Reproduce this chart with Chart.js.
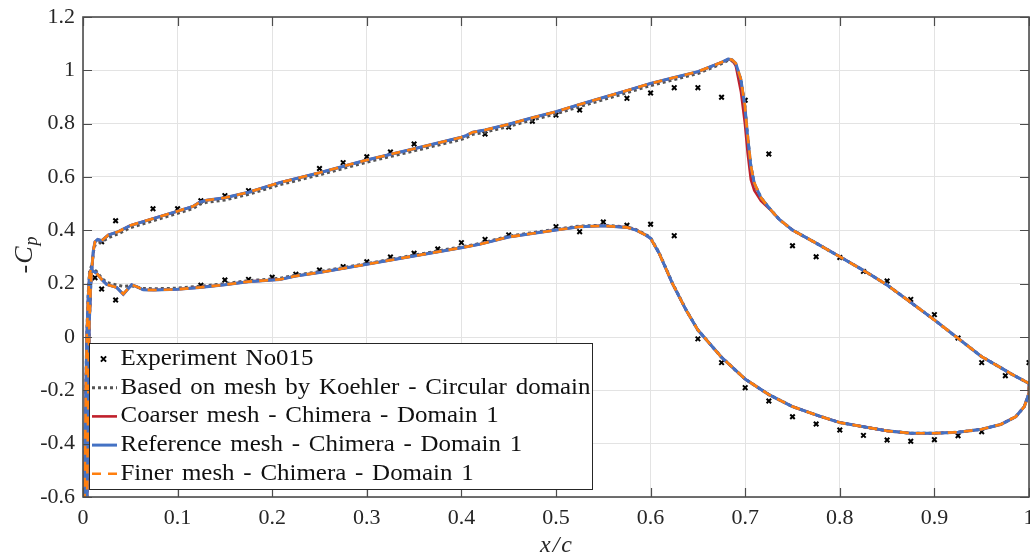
<!DOCTYPE html>
<html>
<head>
<meta charset="utf-8">
<script src="https://cdn.jsdelivr.net/npm/chart.js@4.4.1/dist/chart.umd.min.js"></script>
<style>
html,body{margin:0;padding:0;background:#fff;}
#wrap{width:1030px;height:560px;}
</style>
</head>
<body>
<div id="wrap"><canvas id="c" width="1030" height="560"></canvas></div>
<script>
// ---------- tick values / labels ----------
const xTicks = [0, 0.1, 0.2, 0.3, 0.4, 0.5, 0.6, 0.7, 0.8, 0.9, 1];
const xTickLabels = ['0', '0.1', '0.2', '0.3', '0.4', '0.5', '0.6', '0.7', '0.8', '0.9', '1'];
const yTicks = [-0.6, -0.4, -0.2, 0, 0.2, 0.4, 0.6, 0.8, 1, 1.2];
const yTickLabels = ['-0.6', '-0.4', '-0.2', '0', '0.2', '0.4', '0.6', '0.8', '1', '1.2'];

// ---------- series names ----------
const seriesNames = [
  'Experiment No015',
  'Based on mesh by Koehler - Circular domain',
  'Coarser mesh - Chimera - Domain 1',
  'Reference mesh - Chimera - Domain 1',
  'Finer mesh - Chimera - Domain 1'
];

// ---------- experiment ----------
const expX = [0.0197, 0.0345, 0.074, 0.1, 0.1246, 0.15, 0.175, 0.25, 0.275, 0.3, 0.325, 0.35, 0.425, 0.45, 0.475, 0.5, 0.525, 0.575, 0.6, 0.625, 0.65, 0.675, 0.7, 0.725, 0.75, 0.775, 0.8, 0.825, 0.85, 0.875, 0.9, 0.925, 0.95, 0.975, 1.0,
  0.0127, 0.0197, 0.0345, 0.1246, 0.15, 0.175, 0.2, 0.225, 0.25, 0.275, 0.3, 0.325, 0.35, 0.375, 0.4, 0.425, 0.45, 0.5, 0.525, 0.55, 0.575, 0.6, 0.625, 0.65, 0.675, 0.7, 0.725, 0.75, 0.775, 0.8, 0.825, 0.85, 0.875, 0.9, 0.925, 0.95];
const expY = [0.357, 0.436, 0.481, 0.481, 0.511, 0.530, 0.549, 0.632, 0.654, 0.676, 0.694, 0.724, 0.761, 0.787, 0.809, 0.832, 0.851, 0.895, 0.915, 0.935, 0.935, 0.899, 0.888, 0.686, 0.342, 0.301, 0.298, 0.246, 0.210, 0.141, 0.084, -0.004, -0.096, -0.145, -0.096,
  0.222, 0.180, 0.139, 0.194, 0.214, 0.216, 0.224, 0.235, 0.251, 0.264, 0.282, 0.300, 0.314, 0.330, 0.354, 0.366, 0.383, 0.414, 0.395, 0.431, 0.419, 0.423, 0.380, -0.007, -0.096, -0.190, -0.240, -0.299, -0.326, -0.349, -0.369, -0.386, -0.391, -0.385, -0.370, -0.355];

// ---------- CFD curves (closed loop: TE -> upper -> LE -> lower -> TE) ----------
const loopX = [1.000, 0.990, 0.982, 0.970, 0.950, 0.925, 0.900, 0.875, 0.850, 0.825, 0.800, 0.775, 0.750, 0.736, 0.7255, 0.7167, 0.7096, 0.706, 0.7026, 0.6997, 0.6955, 0.690, 0.686, 0.682, 0.675, 0.650, 0.625, 0.600, 0.575, 0.550, 0.525, 0.500, 0.475, 0.450, 0.425, 0.412, 0.405, 0.400, 0.350, 0.300, 0.250, 0.208, 0.175, 0.150, 0.1306, 0.1235, 0.1165, 0.100, 0.075, 0.050, 0.0373, 0.0268, 0.0197, 0.0155, 0.0127, 0.011, 0.0092, 0.0081, 0.0074, 0.0067, 0.006, 0.005, 0.004, 0.002,
  0.001, 0.002, 0.003, 0.004, 0.0055, 0.007, 0.0085, 0.0144, 0.020, 0.025, 0.0355, 0.0426, 0.0514, 0.0567, 0.0637, 0.075, 0.100, 0.1235, 0.150, 0.1746, 0.208, 0.225, 0.250, 0.300, 0.350, 0.400, 0.419, 0.450, 0.500, 0.525, 0.550, 0.575, 0.5846, 0.595, 0.600, 0.609, 0.623, 0.6375, 0.650, 0.675, 0.700, 0.725, 0.750, 0.778, 0.800, 0.850, 0.875, 0.900, 0.925, 0.950, 0.970, 0.986, 0.995, 1.000, 1.000];

const koehlerY = [-0.174, -0.155, -0.140, -0.115, -0.074, -0.005, 0.064, 0.130, 0.195, 0.250, 0.301, 0.352, 0.401, 0.441, 0.483, 0.522, 0.576, 0.639, 0.751, 0.864, 0.964, 1.022, 1.036, 1.038, 1.025, 0.988, 0.965, 0.943, 0.916, 0.890, 0.864, 0.837, 0.814, 0.790, 0.768, 0.760, 0.747, 0.741, 0.698, 0.656, 0.608, 0.571, 0.535, 0.514, 0.505, 0.498, 0.482, 0.464, 0.437, 0.410, 0.387, 0.372, 0.357, 0.352, 0.345, 0.320, 0.251, 0.189, 0.114, 0.064, -0.100, -0.400, -0.700, -1.000,
  -0.800, -0.500, -0.200, 0.000, 0.160, 0.250, 0.262, 0.245, 0.220, 0.205, 0.195, 0.190, 0.192, 0.187, 0.182, 0.181, 0.183, 0.190, 0.200, 0.211, 0.220, 0.232, 0.245, 0.275, 0.307, 0.338, 0.350, 0.378, 0.404, 0.416, 0.419, 0.413, 0.403, 0.384, 0.372, 0.316, 0.203, 0.102, 0.026, -0.076, -0.158, -0.216, -0.261, -0.296, -0.321, -0.352, -0.361, -0.361, -0.357, -0.346, -0.328, -0.299, -0.261, -0.211, -0.174];

const coarseY = [-0.174, -0.155, -0.140, -0.115, -0.074, -0.005, 0.064, 0.130, 0.195, 0.250, 0.301, 0.352, 0.401, 0.441, 0.481, 0.510, 0.550, 0.590, 0.690, 0.800, 0.920, 1.018, 1.038, 1.042, 1.030, 0.995, 0.973, 0.951, 0.924, 0.898, 0.872, 0.845, 0.822, 0.798, 0.776, 0.768, 0.755, 0.749, 0.706, 0.664, 0.616, 0.579, 0.543, 0.522, 0.513, 0.506, 0.490, 0.472, 0.445, 0.418, 0.395, 0.3825, 0.361, 0.366, 0.357, 0.326, 0.251, 0.189, 0.114, 0.064, -0.100, -0.400, -0.700, -1.000,
  -0.800, -0.500, -0.200, 0.000, 0.150, 0.240, 0.252, 0.239, 0.215, 0.197, 0.186, 0.160, 0.196, 0.189, 0.177, 0.176, 0.179, 0.186, 0.196, 0.2075, 0.216, 0.229, 0.242, 0.2725, 0.304, 0.335, 0.3475, 0.375, 0.401, 0.4135, 0.417, 0.411, 0.401, 0.382, 0.370, 0.314, 0.201, 0.101, 0.026, -0.076, -0.158, -0.216, -0.261, -0.296, -0.321, -0.352, -0.361, -0.361, -0.357, -0.346, -0.328, -0.299, -0.261, -0.211, -0.174];

const referenceY = [-0.174, -0.155, -0.140, -0.115, -0.074, -0.005, 0.064, 0.130, 0.195, 0.250, 0.301, 0.352, 0.401, 0.441, 0.483, 0.522, 0.576, 0.639, 0.751, 0.864, 0.964, 1.026, 1.040, 1.042, 1.030, 0.995, 0.973, 0.951, 0.924, 0.898, 0.872, 0.845, 0.822, 0.798, 0.776, 0.768, 0.755, 0.749, 0.706, 0.664, 0.616, 0.579, 0.543, 0.522, 0.513, 0.506, 0.490, 0.472, 0.445, 0.418, 0.395, 0.3825, 0.361, 0.366, 0.357, 0.326, 0.251, 0.189, 0.114, 0.064, -0.100, -0.400, -0.700, -1.000,
  -0.800, -0.500, -0.200, 0.000, 0.150, 0.240, 0.252, 0.239, 0.215, 0.197, 0.186, 0.160, 0.196, 0.189, 0.177, 0.176, 0.179, 0.186, 0.196, 0.2075, 0.216, 0.229, 0.242, 0.2725, 0.304, 0.335, 0.3475, 0.375, 0.401, 0.4135, 0.417, 0.411, 0.401, 0.382, 0.370, 0.314, 0.201, 0.101, 0.026, -0.076, -0.158, -0.216, -0.261, -0.296, -0.321, -0.352, -0.361, -0.361, -0.357, -0.346, -0.328, -0.299, -0.261, -0.211, -0.174];

const finerY = [-0.174, -0.155, -0.140, -0.115, -0.074, -0.005, 0.064, 0.130, 0.195, 0.250, 0.301, 0.352, 0.401, 0.441, 0.483, 0.522, 0.578, 0.642, 0.755, 0.866, 0.966, 1.027, 1.040, 1.042, 1.030, 0.995, 0.973, 0.951, 0.924, 0.898, 0.872, 0.845, 0.822, 0.798, 0.776, 0.768, 0.755, 0.749, 0.706, 0.664, 0.616, 0.579, 0.543, 0.522, 0.513, 0.506, 0.490, 0.472, 0.445, 0.418, 0.395, 0.3825, 0.361, 0.366, 0.357, 0.326, 0.251, 0.189, 0.114, 0.064, -0.100, -0.400, -0.700, -1.000,
  -0.800, -0.500, -0.200, 0.000, 0.150, 0.240, 0.252, 0.239, 0.215, 0.197, 0.186, 0.162, 0.196, 0.189, 0.177, 0.176, 0.179, 0.186, 0.196, 0.2075, 0.216, 0.229, 0.242, 0.2725, 0.304, 0.335, 0.3475, 0.375, 0.401, 0.4135, 0.417, 0.411, 0.401, 0.382, 0.370, 0.314, 0.201, 0.101, 0.026, -0.076, -0.158, -0.216, -0.261, -0.296, -0.321, -0.352, -0.361, -0.361, -0.357, -0.346, -0.328, -0.299, -0.261, -0.211, -0.174];

// ---------- styles ----------
const FONT = '"Liberation Serif", "DejaVu Serif", serif';
const AXIS_COLOR = '#4d4d4d';
const TEXT_COLOR = '#262626';
const GRID_COLOR = '#e3e3e3';

function pts(xs, ys) { return xs.map((v, i) => ({ x: v, y: ys[i] })); }

const datasets = [
  { label: seriesNames[0], data: pts(expX, expY), showLine: false, pointStyle: 'crossRot', pointRadius: 3.2, pointBorderWidth: 2, borderColor: '#000', backgroundColor: '#000', order: 5, clip: 0 },
  { label: seriesNames[1], data: pts(loopX, koehlerY), showLine: true, borderColor: '#555555', borderWidth: 3, borderDash: [3, 3], pointRadius: 0, order: 4, tension: 0 },
  { label: seriesNames[2], data: pts(loopX, coarseY), showLine: true, borderColor: '#c0202b', borderWidth: 2.6, pointRadius: 0, order: 3, tension: 0 },
  { label: seriesNames[3], data: pts(loopX, referenceY), showLine: true, borderColor: '#4472c4', borderWidth: 3, pointRadius: 0, order: 2, tension: 0 },
  { label: seriesNames[4], data: pts(loopX, finerY), showLine: true, borderColor: '#ff7f0e', borderWidth: 2.6, borderDash: [9, 7], pointRadius: 0, order: 1, tension: 0 }
];

const decor = {
  id: 'decor',
  afterDatasetsDraw(chart) {
    const { ctx, chartArea: a, scales } = chart;
    const xs = scales.x, ys = scales.y;
    ctx.save();
    ctx.strokeStyle = AXIS_COLOR;
    ctx.lineWidth = 1.2;
    ctx.beginPath();
    xTicks.forEach(v => {
      const p = Math.round(xs.getPixelForValue(v)) + 0.5;
      ctx.moveTo(p, a.bottom); ctx.lineTo(p, a.bottom - 9);
      ctx.moveTo(p, a.top); ctx.lineTo(p, a.top + 9);
    });
    yTicks.forEach(v => {
      const p = Math.round(ys.getPixelForValue(v)) + 0.5;
      ctx.moveTo(a.left, p); ctx.lineTo(a.left + 9, p);
      ctx.moveTo(a.right, p); ctx.lineTo(a.right - 9, p);
    });
    ctx.stroke();
    ctx.lineWidth = 1.6;
    ctx.strokeRect(a.left, a.top, a.right - a.left, a.bottom - a.top);
    ctx.restore();
  },
  afterDraw(chart) {
    const { ctx, chartArea: a } = chart;
    ctx.save();
    // x axis title
    ctx.fillStyle = TEXT_COLOR;
    ctx.font = 'italic 24px ' + FONT;
    ctx.textAlign = 'left';
    ctx.textBaseline = 'alphabetic';
    try { ctx.letterSpacing = '2px'; } catch (e) {}
    const tw = ctx.measureText('x/c').width;
    ctx.fillText('x/c', (a.left + a.right) / 2 - tw / 2 + 1, 552);
    try { ctx.letterSpacing = '0px'; } catch (e) {}
    // y axis title: -C_p
    ctx.save();
    ctx.translate(32, (a.top + a.bottom) / 2 - 2);
    ctx.rotate(-Math.PI / 2);
    ctx.textAlign = 'left';
    ctx.font = '26px ' + FONT;
    const w1 = ctx.measureText('-').width + 1;
    ctx.font = 'italic 26px ' + FONT;
    const w2 = ctx.measureText('C').width + 1;
    ctx.font = 'italic 18px ' + FONT;
    const w3 = ctx.measureText('p').width;
    let sx = -(w1 + w2 + w3) / 2;
    ctx.font = '26px ' + FONT; ctx.fillText('-', sx, 0);
    ctx.font = 'italic 26px ' + FONT; ctx.fillText('C', sx + w1, 0);
    ctx.font = 'italic 18px ' + FONT; ctx.fillText('p', sx + w1 + w2, 5);
    ctx.restore();

    // legend
    const L = 89.5, T = 343.5, R = 592.5, B = 489.5;
    ctx.fillStyle = '#ffffff';
    ctx.fillRect(L, T, R - L, B - T);
    ctx.strokeStyle = '#262626';
    ctx.lineWidth = 1;
    ctx.strokeRect(L, T, R - L, B - T);
    // glyph size like the reference, stretched a little horizontally with
    // slightly wider word gaps so the labels span what they do there
    const fs = 22.5;
    ctx.font = fs + 'px ' + FONT;
    const A0 = ctx.measureText(seriesNames[0]).width;
    const A1 = ctx.measureText(seriesNames[1]).width;
    let g = (2.435 * A0 - A1) / 4.565;
    g = Math.max(0, Math.min(6, g));
    let k = 470 / (A1 + 7 * g);
    k = Math.max(0.9, Math.min(1.25, k));
    try { ctx.wordSpacing = g.toFixed(2) + 'px'; } catch (e) {}
    ctx.textAlign = 'left';
    ctx.textBaseline = 'middle';
    chart.data.datasets.forEach((ds, i) => {
      const cy = 359 + i * 28.7;
      ctx.save();
      if (i === 0) {
        ctx.strokeStyle = '#000'; ctx.lineWidth = 2;
        const s = 2.6, cx = 103.5;
        ctx.beginPath();
        ctx.moveTo(cx - s, cy - s); ctx.lineTo(cx + s, cy + s);
        ctx.moveTo(cx + s, cy - s); ctx.lineTo(cx - s, cy + s);
        ctx.stroke();
      } else {
        ctx.strokeStyle = ds.borderColor;
        ctx.lineWidth = ds.borderWidth;
        ctx.setLineDash(ds.borderDash || []);
        ctx.beginPath();
        ctx.moveTo(92, cy); ctx.lineTo(117, cy);
        ctx.stroke();
      }
      ctx.restore();
      ctx.save();
      ctx.translate(120.5, cy);
      ctx.scale(k, 1);
      ctx.fillStyle = '#111';
      ctx.fillText(ds.label, 0, 0);
      ctx.restore();
    });
    ctx.restore();
  }
};

new Chart(document.getElementById('c'), {
  type: 'scatter',
  data: { datasets },
  options: {
    responsive: false,
    animation: false,
    layout: { autoPadding: false, padding: { top: 17, right: 1, left: 0, bottom: 0 } },
    plugins: { legend: { display: false }, tooltip: { enabled: false } },
    scales: {
      x: {
        type: 'linear', min: 0, max: 1,
        afterBuildTicks: s => { s.ticks = xTicks.map(v => ({ value: v })); },
        afterFit: s => { s.height = 63; s.paddingLeft = 0; s.paddingRight = 0; },
        grid: { color: GRID_COLOR, lineWidth: 1, drawTicks: false },
        border: { display: false },
        ticks: { padding: 8, color: TEXT_COLOR, font: { family: FONT, size: 22 }, maxRotation: 0, autoSkip: false,
          callback: (v, i) => xTickLabels[i] }
      },
      y: {
        type: 'linear', min: -0.6, max: 1.2,
        afterBuildTicks: s => { s.ticks = yTicks.map(v => ({ value: v })); },
        afterFit: s => { s.width = 83; s.paddingTop = 0; s.paddingBottom = 0; },
        grid: { color: GRID_COLOR, lineWidth: 1, drawTicks: false },
        border: { display: false },
        ticks: { padding: 8, color: TEXT_COLOR, font: { family: FONT, size: 22 }, autoSkip: false,
          callback: (v, i) => yTickLabels[i] }
      }
    }
  },
  plugins: [decor]
});
</script>
</body>
</html>
